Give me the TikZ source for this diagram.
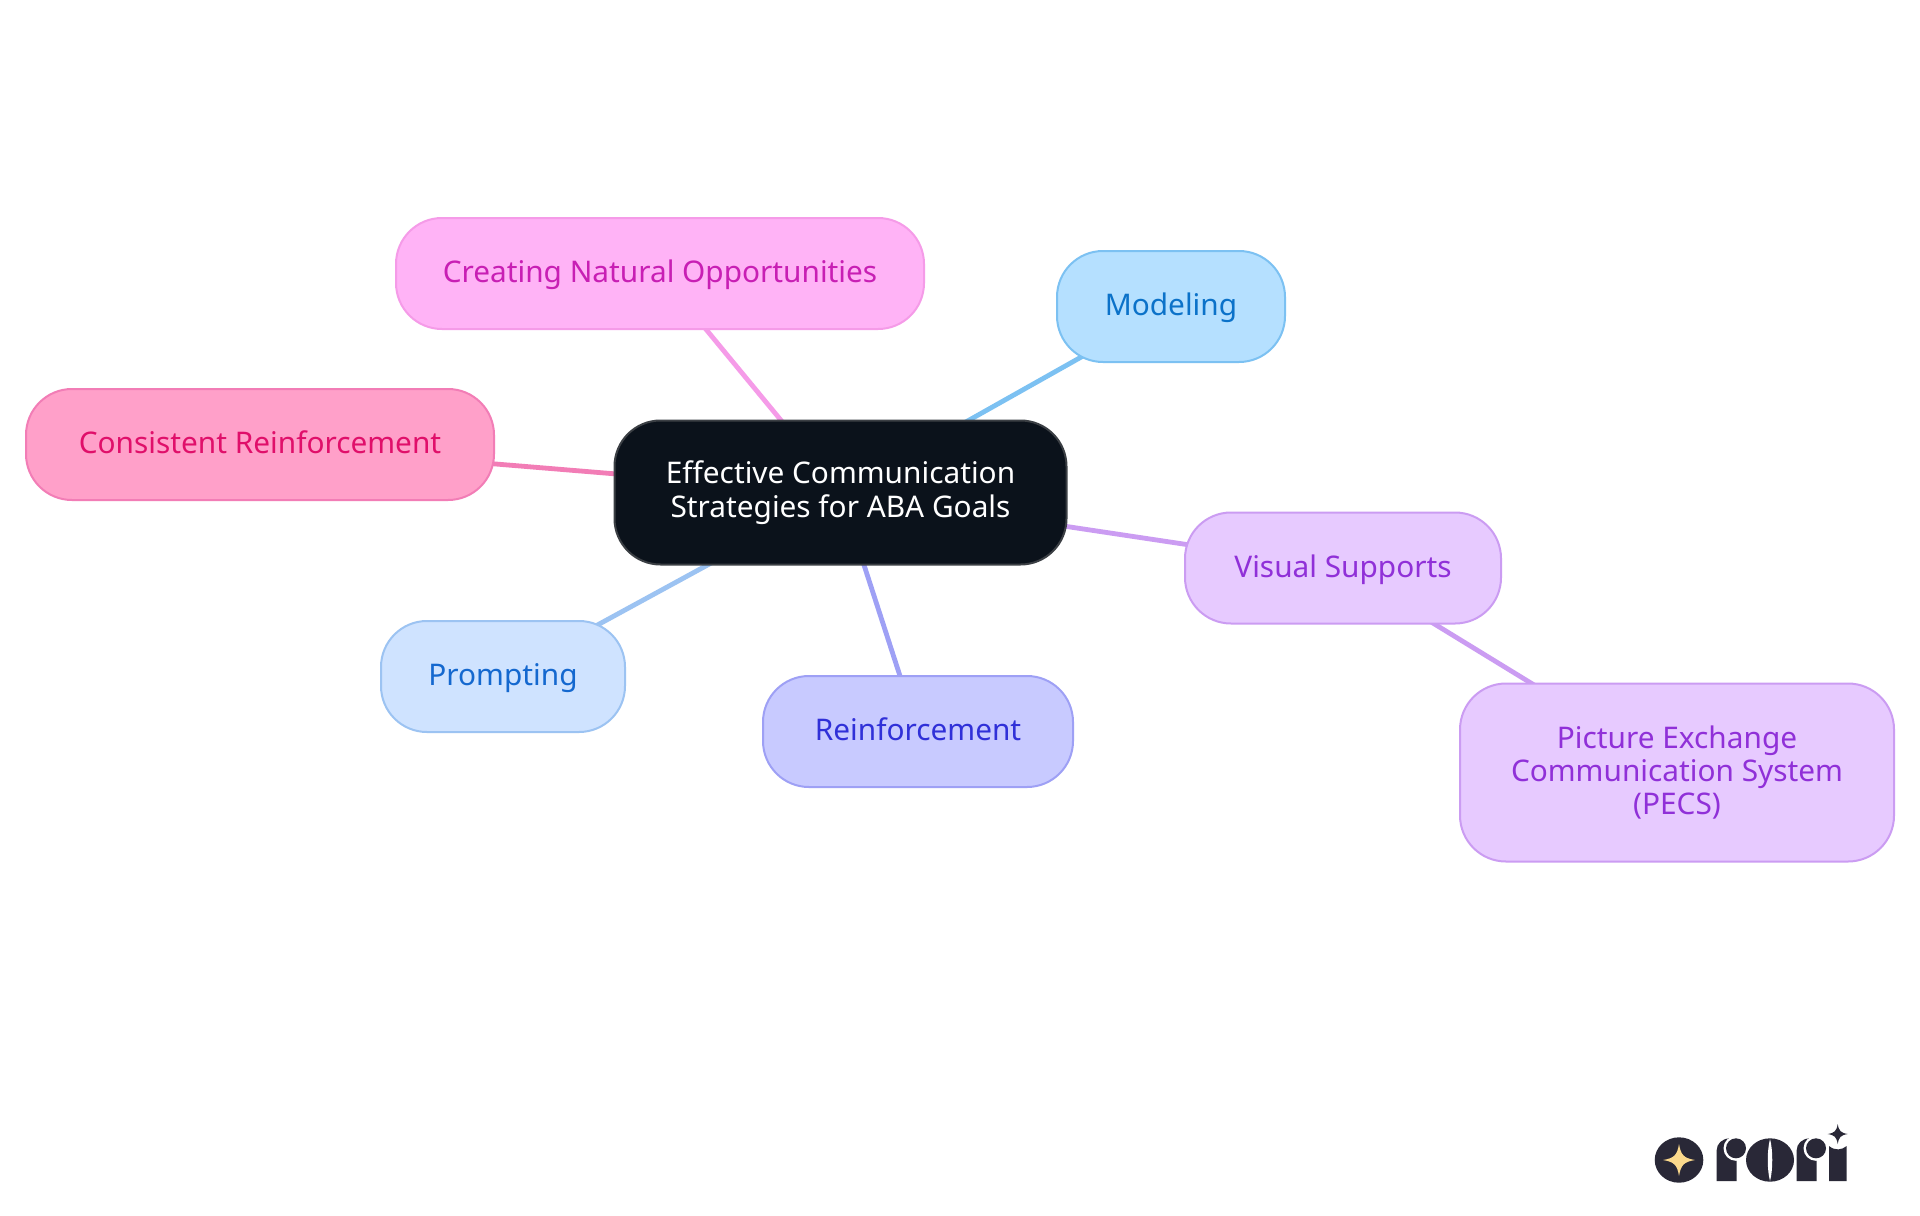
\documentclass[tikz,border=0pt]{standalone}
\usepackage{fontspec}
\setmainfont{Noto Sans}
\usetikzlibrary{backgrounds}
\definecolor{rootfill}{HTML}{0B121B}
\definecolor{rootline}{HTML}{3B3F44}
\definecolor{logoink}{HTML}{292837}
\definecolor{logostar}{HTML}{FBD98C}
\definecolor{pinkfill}{HTML}{FFB3F6}
\definecolor{pinkline}{HTML}{F59BE8}
\definecolor{pinktext}{HTML}{C81FB4}
\definecolor{skyfill}{HTML}{B5E0FF}
\definecolor{skyline}{HTML}{7CC1F2}
\definecolor{skytext}{HTML}{0B72C9}
\definecolor{rosefill}{HTML}{FFA0C9}
\definecolor{roseline}{HTML}{F27DB6}
\definecolor{rosetext}{HTML}{E00F6A}
\definecolor{lilacfill}{HTML}{E7CAFF}
\definecolor{lilacline}{HTML}{CB9CF2}
\definecolor{lilactext}{HTML}{9030D8}
\definecolor{bluefill}{HTML}{CFE3FF}
\definecolor{blueline}{HTML}{9CC3F2}
\definecolor{bluetext}{HTML}{1468CF}
\definecolor{indigofill}{HTML}{C8CAFF}
\definecolor{indigoline}{HTML}{9EA0F5}
\definecolor{indigotext}{HTML}{3030D8}
% four pointed star of the logo: centre, arm, colour
\newcommand{\sparkle}[4]{\fill[#4] (#1,#2-#3) .. controls (#1+.12*#3,#2-.3*#3) and (#1+.3*#3,#2-.12*#3) .. (#1+#3,#2) .. controls (#1+.3*#3,#2+.12*#3) and (#1+.12*#3,#2+.3*#3) .. (#1,#2+#3) .. controls (#1-.12*#3,#2+.3*#3) and (#1-.3*#3,#2+.12*#3) .. (#1-#3,#2) .. controls (#1-.3*#3,#2-.12*#3) and (#1-.12*#3,#2-.3*#3) .. cycle;}
\begin{document}
\begin{tikzpicture}[x=.5pt, y=-.5pt, main node/.style={draw, rounded corners=23pt, line width=1pt, inner sep=0pt, align=center, font=\fontsize{14.9pt}{16.6pt}\selectfont},
link/.style={line width=2.4pt}]
\useasboundingbox (0,0) rectangle (1920,1215);
\node[main node, fill=rootfill, draw=rootline, text=white, minimum width=226pt, minimum height=72pt] (root) at (840.5,492.5) {Effective Communication\\[.4pt]Strategies for ABA Goals};
\begin{scope}[every node/.style={minimum height=55.5pt, text height=12pt, text depth=3pt}]
\node[main node, fill=pinkfill, draw=pinkline, text=pinktext, minimum width=264pt] (opportunities) at (660,273.5) {Creating Natural Opportunities};
\node[main node, fill=skyfill, draw=skyline, text=skytext, minimum width=114pt] (modeling) at (1171,306.5) {Modeling};
\node[main node, fill=rosefill, draw=roseline, text=rosetext, minimum width=234pt] (consistent) at (260,444.5) {Consistent Reinforcement};
\node[main node, fill=lilacfill, draw=lilacline, text=lilactext, minimum width=158pt] (visual) at (1343,568) {Visual Supports};
\node[main node, fill=bluefill, draw=blueline, text=bluetext, minimum width=122pt] (prompting) at (503,676.5) {Prompting};
\node[main node, fill=indigofill, draw=indigoline, text=indigotext, minimum width=155pt] (reinforcement) at (918,731.5) {Reinforcement};
\end{scope}
\node[main node, fill=lilacfill, draw=lilacline, text=lilactext, minimum width=217pt, minimum height=89pt] (pecs) at (1677,772.5) {Picture Exchange\\Communication System\\(PECS)};
\begin{scope}[on background layer]
\fill[white] (0,0) rectangle (1920,1215);
\draw[link, pinkline] (root.center) -- (opportunities.center);
\draw[link, skyline] (root.center) -- (modeling.center);
\draw[link, roseline] (root.center) -- (consistent.center);
\draw[link, lilacline] (root.center) -- (visual.center);
\draw[link, blueline] (root.center) -- (prompting.center);
\draw[link, indigoline] (root.center) -- (reinforcement.center);
\draw[link, lilacline] (visual.center) -- (pecs.center);
\end{scope}
% logo
\fill[logoink] (1679,1160) ellipse [x radius=24.3, y radius=22.7];
\sparkle{1679}{1160}{16}{logostar}
\fill[logoink] (1716.7,1181) -- (1716.7,1150) .. controls (1716.7,1144) and (1722,1138.3) .. (1730,1138.3) -- (1736.7,1150) -- (1736.7,1181) -- cycle;
\fill[white] (1736,1148.3) circle (12.5);
\fill[logoink] (1736,1148.3) circle (10);
\fill[logoink] (1770,1160) ellipse [x radius=24, y radius=21.7];
\fill[white] (1770,1139) .. controls (1773,1150) and (1773,1170) .. (1770,1181) .. controls (1767,1170) and (1767,1150) .. cycle;
\fill[logoink] (1796.7,1181) -- (1796.7,1150) .. controls (1796.7,1144) and (1802,1138.3) .. (1810,1138.3) -- (1816.7,1150) -- (1816.7,1181) -- cycle;
\fill[white] (1816,1148.3) circle (12.5);
\fill[logoink] (1816,1148.3) circle (10);
\fill[logoink] (1829,1181) -- (1829,1146) .. controls (1835,1151) and (1842,1150) .. (1846.7,1146) -- (1846.7,1181) -- cycle;
\sparkle{1837.7}{1134}{10}{logoink}
\end{tikzpicture}
\end{document}
